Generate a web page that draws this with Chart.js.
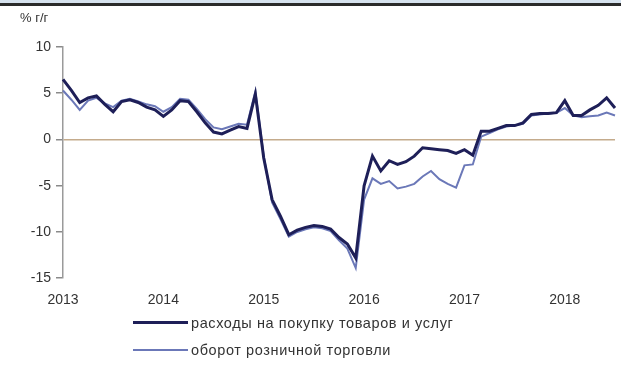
<!DOCTYPE html>
<html>
<head>
<meta charset="utf-8">
<script src="https://cdn.jsdelivr.net/npm/chart.js@4"></script>
<style>
    body { margin: 0; background: #fff; font-family: "Liberation Sans", Arial, sans-serif; }
    #wrap { position: relative; width: 621px; height: 370px; overflow: hidden; }
    #topbar { position: absolute; left: 0; top: 0; width: 621px; height: 3px; background: #d6e2ee; border-bottom: 3px solid #2b2b2b; }
    #unit { position: absolute; left: 20px; top: 10px; font-size: 13px; color: #333; }
    #chartBox { position: absolute; left: 0; top: 0; width: 621px; height: 315px; }
    #legend { position: absolute; left: 133px; top: 309px; font-size: 14.5px; letter-spacing: 0.6px; color: #333; }
    .item { display: flex; align-items: center; height: 27px; }
    .swatch { width: 55px; margin-right: 3px; }
</style>
</head>
<body>
<div id="wrap">
    <div id="topbar"></div>
    <div id="chartBox"><canvas id="retailChart"></canvas></div>
    <div id="unit">% г/г</div>
    <div id="legend"></div>
</div>
<script>
// Year ticks; monthly points Jan 2013 - Jul 2018
const years = ['2013', '2014', '2015', '2016', '2017', '2018'];
const lastMonth = 7;

// % y/y
const spending = [
    6.5, 5.3, 4.0, 4.5, 4.7, 3.8, 3.0, 4.1, 4.3, 4.0, 3.5, 3.2,
    2.5, 3.2, 4.2, 4.1, 3.0, 1.8, 0.8, 0.6, 1.0, 1.4, 1.2, 4.9,
    -2.0, -6.5, -8.3, -10.3, -9.8, -9.5, -9.3, -9.4, -9.7, -10.6, -11.3, -12.8,
    -5.0, -1.8, -3.4, -2.3, -2.7, -2.4, -1.8, -0.9, -1.0, -1.1, -1.2, -1.5,
    -1.1, -1.7, 0.9, 0.9, 1.2, 1.5, 1.5, 1.8, 2.7, 2.8, 2.8, 2.9,
    4.2, 2.6, 2.6, 3.2, 3.7, 4.5, 3.4
];
const retail = [
    5.3, 4.3, 3.2, 4.2, 4.5, 3.9, 3.5, 4.2, 4.4, 4.1, 3.8, 3.6,
    3.0, 3.5, 4.4, 4.3, 3.3, 2.2, 1.3, 1.1, 1.4, 1.7, 1.6, 5.2,
    -1.8, -6.8, -8.6, -10.5, -10.0, -9.7, -9.5, -9.6, -9.9, -10.9, -11.8, -13.9,
    -6.5, -4.2, -4.8, -4.5, -5.3, -5.1, -4.8, -4.0, -3.4, -4.3, -4.8, -5.2,
    -2.8, -2.7, 0.3, 0.7, 1.1, 1.4, 1.5, 1.7, 2.6, 2.7, 2.8, 2.9,
    3.4, 2.6, 2.4, 2.5, 2.6, 2.9, 2.6
];

const months = [];
years.forEach(function(y, i) {
    const n = i === years.length - 1 ? lastMonth : 12;
    for (let m = 1; m <= n; m++) {
        months.push(y + '-' + String(m).padStart(2, '0'));
    }
});

const series = [
    { label: 'расходы на покупку товаров и услуг', data: spending, color: '#1e1f58', width: 3 },
    { label: 'оборот розничной торговли', data: retail, color: '#6b78b8', width: 2 }
];

const tickFont = { family: 'Liberation Sans', size: 14 };

document.addEventListener('DOMContentLoaded', function() {
    const ctx = document.getElementById('retailChart').getContext('2d');
    const chart = new Chart(ctx, {
        type: 'line',
        data: {
            labels: months,
            datasets: series.map(function(s) {
                return {
                    label: s.label,
                    data: s.data,
                    borderColor: s.color,
                    borderWidth: s.width,
                    pointRadius: 0,
                    tension: 0,
                    fill: false
                };
            })
        },
        options: {
            responsive: true,
            maintainAspectRatio: false,
            animation: false,
            layout: { padding: { top: 47, right: 1, left: 0, bottom: 0 } },
            plugins: {
                legend: { display: false },
                tooltip: { enabled: false }
            },
            scales: {
                x: {
                    offset: false,
                    grid: { display: false },
                    border: { display: false },
                    ticks: {
                        autoSkip: false,
                        maxRotation: 0,
                        padding: 6,
                        color: '#333',
                        font: tickFont,
                        callback: function(value) {
                            const lbl = months[value];
                            return lbl.endsWith('-01') ? lbl.slice(0, 4) : '';
                        }
                    }
                },
                y: {
                    min: -15,
                    max: 10,
                    ticks: {
                        stepSize: 5,
                        padding: 5,
                        color: '#333',
                        font: tickFont
                    },
                    grid: {
                        color: function(c) {
                            return c.tick && c.tick.value === 0 ? '#c4ab8c' : 'rgba(0,0,0,0)';
                        },
                        lineWidth: 1.5,
                        tickColor: '#8a8a8a',
                        tickLength: 7
                    },
                    border: { color: '#9a9a9a', width: 1.5 },
                    afterFit: function(scale) { scale.width = 63; }
                }
            }
        }
    });

    // legend rows from the datasets
    const legend = document.getElementById('legend');
    chart.data.datasets.forEach(function(ds) {
        const row = document.createElement('div');
        row.className = 'item';
        row.innerHTML = '<span class="swatch" style="border-top:' + ds.borderWidth + 'px solid ' + ds.borderColor + '"></span>' + ds.label;
        legend.appendChild(row);
    });
});
</script>
</body>
</html>
